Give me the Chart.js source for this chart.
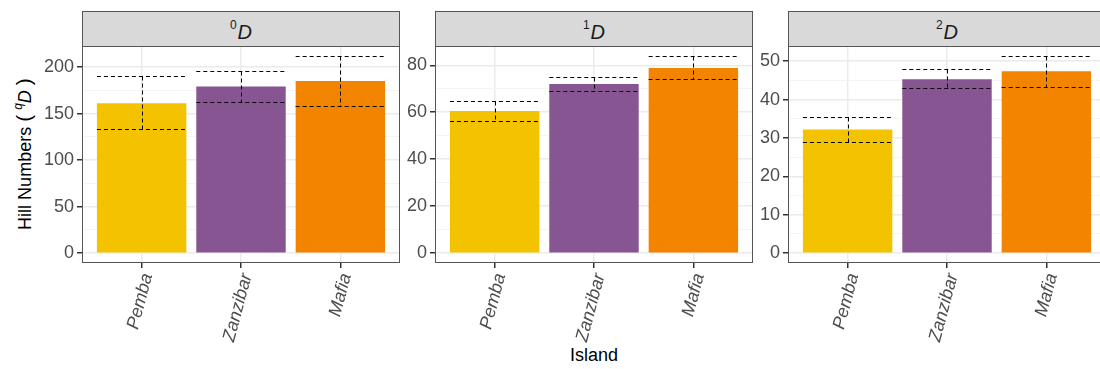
<!DOCTYPE html>
<html>
<head>
<meta charset="utf-8">
<script src="https://cdn.jsdelivr.net/npm/chart.js@4/dist/chart.umd.min.js"></script>
<style>
  body { margin: 0; width: 1100px; height: 369px; overflow: hidden; position: relative; background: #fff;
         font-family: 'Liberation Sans', Arial, sans-serif; }
  canvas { position: absolute; top: 46px; }
  .strip { position: absolute; top: 11px; height: 36px; width: 318px; box-sizing: border-box;
           background: #D9D9D9; border: 1px solid #555; color: #1A1A1A; font-size: 20px;
           text-align: center; line-height: 40px; }
  .strip sup { font-size: 12px; font-style: normal; vertical-align: 0; position: relative; top: -10px; margin-right: 1px; }
  .title { position: absolute; font-size: 18px; color: #000; white-space: nowrap; }
  .title sup { font-size: 12px; position: relative; top: -9px; vertical-align: 0; }
  .title .par { font-size: 21px; }
</style>
</head>
<body>

<div class="strip" style="left:82px"><sup>0</sup><i>D</i></div>
<div class="strip" style="left:435px"><sup>1</sup><i>D</i></div>
<div class="strip" style="left:788px"><sup>2</sup><i>D</i></div>

<div class="title" style="left:24px; top:154px; transform: translate(-50%, -50%) rotate(-90deg);">Hill Numbers <span class="par">(</span> <sup><i>q</i></sup><i>D</i> <span class="par">)</span></div>
<div class="title" style="left:594px; top:355px; transform: translate(-50%, -50%);">Island</div>

<canvas id="c0" width="370" height="323" style="left:30px"></canvas>
<canvas id="c1" width="355" height="323" style="left:398px"></canvas>
<canvas id="c2" width="354" height="323" style="left:752px"></canvas>

<script>
// 데이터
const islands = ['Pemba', 'Zanzibar', 'Mafia'];
const islandColors = ['#F3C300', '#875692', '#F38400'];

// q = 0
const q0Values = [161, 179, 185];
const q0Lower = [133, 162, 158];
const q0Upper = [190, 196, 212];
const q0Ticks = [0, 50, 100, 150, 200];

// q = 1
const q1Values = [60.5, 72, 78.8];
const q1Lower = [56.3, 69, 74];
const q1Upper = [64.8, 75, 84];
const q1Ticks = [0, 20, 40, 60, 80];

// q = 2
const q2Values = [32.2, 45.3, 47.4];
const q2Lower = [28.9, 43.0, 43.4];
const q2Upper = [35.4, 47.9, 51.4];
const q2Ticks = [0, 10, 20, 30, 40, 50];

const PLOT_H = 217;   // 패널 높이
const TICK_FONT = { family: "'Liberation Sans', Arial, sans-serif", size: 18 };

// 점선 에러바 + 패널 테두리
const errorBars = {
  id: 'errorBars',
  afterDatasetsDraw(chart, args, opts) {
    const { ctx } = chart;
    const x = chart.scales.x, y = chart.scales.y;
    const bars = chart.getDatasetMeta(0).data;
    ctx.save();
    ctx.strokeStyle = '#000';
    ctx.lineWidth = 1;
    ctx.setLineDash([4, 3]);
    opts.lower.forEach((lo, i) => {
      const cx = x.getPixelForValue(i + 1);
      const hw = bars[i].width / 2;
      const yl = Math.round(y.getPixelForValue(lo)) + 0.5;
      const yu = Math.round(y.getPixelForValue(opts.upper[i])) + 0.5;
      ctx.beginPath();
      ctx.moveTo(cx - hw, yu); ctx.lineTo(cx + hw, yu);
      ctx.moveTo(cx - hw, yl); ctx.lineTo(cx + hw, yl);
      ctx.moveTo(Math.round(cx) + 0.5, yu); ctx.lineTo(Math.round(cx) + 0.5, yl);
      ctx.stroke();
    });
    ctx.restore();
  },
  afterDraw(chart) {
    const { ctx, chartArea: a } = chart;
    ctx.save();
    ctx.strokeStyle = '#555';
    ctx.lineWidth = 1;
    ctx.strokeRect(a.left + 0.5, a.top + 0.5, a.right - a.left - 1, a.bottom - a.top - 1);
    ctx.restore();
  }
};

function makePanel(id, values, lower, upper, majorTicks, yWidth) {
  // ggplot 기본 확장: 범위의 5%
  const hi = Math.max(...upper);
  const pad = 0.05 * hi;
  const step = majorTicks[1] - majorTicks[0];
  const minor = majorTicks.map(t => t + step / 2).filter(t => t < hi + pad);
  const allTicks = majorTicks.concat(minor).sort((a, b) => a - b);
  const isMajor = v => majorTicks.includes(v);

  return new Chart(document.getElementById(id), {
    type: 'bar',
    data: {
      datasets: [{
        data: values.map((v, i) => ({ x: i + 1, y: v })),
        backgroundColor: islandColors,
        borderWidth: 0,
        barPercentage: 0.9,
        categoryPercentage: 1.0
      }]
    },
    options: {
      responsive: false,
      animation: false,
      layout: { padding: 0 },
      plugins: {
        legend: { display: false },
        tooltip: { enabled: false },
        errorBars: { lower, upper }
      },
      scales: {
        x: {
          type: 'linear', min: 0.4, max: 3.6, offset: false,
          afterBuildTicks: s => { s.ticks = [1, 2, 3].map(v => ({ value: v })); },
          afterFit: s => { s.height = 323 - PLOT_H; s.paddingLeft = 0; s.paddingRight = 0; },
          border: { display: false },
          grid: { offset: false, color: '#EBEBEB', lineWidth: 1.5, tickColor: '#333', tickLength: 5 },
          ticks: {
            autoSkip: false, minRotation: 75, maxRotation: 75, padding: 3, labelOffset: 6,
            color: '#4D4D4D', font: { ...TICK_FONT, style: 'italic' },
            callback: v => islands[v - 1]
          }
        },
        y: {
          type: 'linear', min: -pad, max: hi + pad,
          afterBuildTicks: s => { s.ticks = allTicks.map(v => ({ value: v })); },
          afterFit: s => { s.width = yWidth; s.paddingTop = 0; s.paddingBottom = 0; },
          border: { display: false },
          grid: {
            color: c => isMajor(c.tick.value) ? '#EBEBEB' : '#F4F4F4',
            lineWidth: c => isMajor(c.tick.value) ? 1.5 : 1,
            tickColor: c => isMajor(c.tick.value) ? '#333' : 'rgba(0,0,0,0)',
            tickLength: 5
          },
          ticks: {
            autoSkip: false, padding: 3, color: '#4D4D4D', font: TICK_FONT,
            callback: v => isMajor(v) ? String(v) : ''
          }
        }
      }
    },
    plugins: [errorBars]
  });
}

makePanel('c0', q0Values, q0Lower, q0Upper, q0Ticks, 52);
makePanel('c1', q1Values, q1Lower, q1Upper, q1Ticks, 37);
makePanel('c2', q2Values, q2Lower, q2Upper, q2Ticks, 36);
</script>
</body>
</html>
